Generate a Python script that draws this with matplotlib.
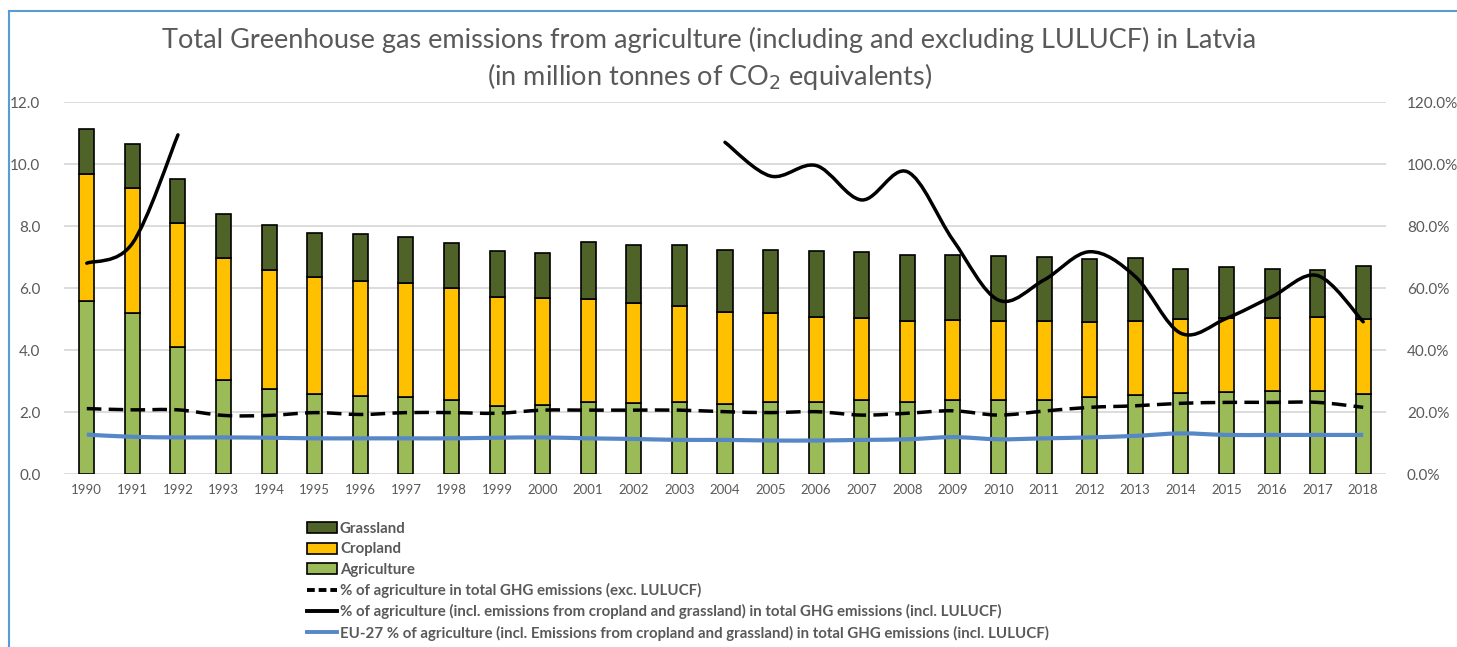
import numpy as np
import matplotlib
matplotlib.use("Agg")
import matplotlib.pyplot as plt
from matplotlib.path import Path
from matplotlib.patches import PathPatch, Patch
from matplotlib.lines import Line2D
from matplotlib.ticker import FuncFormatter, MultipleLocator

plt.rcParams['font.family'] = ['Lato', 'DejaVu Sans']

# data (million tonnes CO2 eq.)
years = [str(y) for y in range(1990, 2019)]
agriculture = [5.58, 5.20, 4.11, 3.03, 2.73, 2.57, 2.51, 2.48, 2.38, 2.19,
               2.23, 2.32, 2.28, 2.32, 2.26, 2.31, 2.32, 2.40, 2.33, 2.38,
               2.40, 2.40, 2.49, 2.55, 2.61, 2.65, 2.68, 2.68, 2.58]
cropland = [4.10, 4.04, 3.99, 3.94, 3.86, 3.77, 3.73, 3.68, 3.61, 3.52,
            3.45, 3.33, 3.24, 3.11, 2.98, 2.87, 2.76, 2.64, 2.59, 2.59,
            2.55, 2.55, 2.42, 2.40, 2.39, 2.37, 2.35, 2.40, 2.43]
grassland = [1.44, 1.42, 1.42, 1.42, 1.43, 1.43, 1.50, 1.49, 1.45, 1.48,
             1.46, 1.84, 1.87, 1.96, 2.00, 2.06, 2.11, 2.12, 2.16, 2.08,
             2.08, 2.05, 2.03, 2.02, 1.62, 1.65, 1.57, 1.50, 1.71]

# percentages
pct_exc_lulucf = [21.1, 20.7, 20.7, 18.9, 18.9, 19.8, 19.2, 19.8, 19.8, 19.6,
                  20.6, 20.6, 20.6, 20.6, 20.1, 19.8, 20.1, 19.0, 19.6, 20.4,
                  19.0, 20.3, 21.5, 22.0, 22.8, 23.1, 23.1, 23.1, 21.5]
pct_inc_lulucf = [68.0, 74.4, 109.4, np.nan, np.nan, np.nan, np.nan, np.nan,
                  np.nan, np.nan, np.nan, np.nan, np.nan, np.nan, 107.0, 96.1,
                  99.5, 88.4, 97.5, 75.5, 56.1, 62.6, 71.7, 63.7, 45.4, 50.2,
                  57.2, 64.0, 49.1]
pct_eu27 = [12.7, 12.0, 11.8, 11.8, 11.7, 11.5, 11.5, 11.5, 11.5, 11.7,
            11.8, 11.5, 11.3, 11.0, 11.0, 10.8, 10.8, 11.0, 11.2, 11.9,
            11.2, 11.5, 11.8, 12.3, 13.1, 12.6, 12.6, 12.6, 12.6]

c_grass = '#4F6228'
c_crop = '#FFC000'
c_agri = '#9BBB59'
c_blue = '#5687C6'
c_text = '#595959'


def smooth_line(ax, xs, ys, **kw):
    # Excel-style smoothed line (Catmull-Rom as cubic Bezier), per unbroken run
    xs = np.asarray(xs, float)
    ys = np.asarray(ys, float)
    ok = ~np.isnan(ys)
    runs, cur = [], []
    for i in range(len(xs)):
        if ok[i]:
            cur.append(i)
        elif cur:
            runs.append(cur)
            cur = []
    if cur:
        runs.append(cur)
    for run in runs:
        p = np.column_stack([xs[run], ys[run]])
        n = len(p)
        verts = [p[0]]
        codes = [Path.MOVETO]
        for i in range(n - 1):
            p0 = p[max(i - 1, 0)]
            p1, p2 = p[i], p[i + 1]
            p3 = p[min(i + 2, n - 1)]
            verts += [p1 + (p2 - p0) / 6, p2 - (p3 - p1) / 6, p2]
            codes += [Path.CURVE4] * 3
        ax.add_patch(PathPatch(Path(verts, codes), fill=False, **kw))


fig = plt.figure(figsize=(14.57, 6.47), dpi=100)
ax = fig.add_axes([64 / 1457, 1 - 474 / 647, 1322 / 1457, 372 / 647])
x = np.arange(len(years))
w = 0.33
ax.bar(x, agriculture, w, color=c_agri, edgecolor='black', linewidth=1.2, zorder=2)
ax.bar(x, cropland, w, bottom=agriculture, color=c_crop, edgecolor='black', linewidth=1.2, zorder=2)
bottom2 = np.array(agriculture) + np.array(cropland)
ax.bar(x, grassland, w, bottom=bottom2, color=c_grass, edgecolor='black', linewidth=1.2, zorder=2)

ax.set_xlim(-0.5, len(years) - 0.5)
ax.set_ylim(0, 12)
ax.yaxis.set_major_locator(MultipleLocator(2))
ax.yaxis.set_major_formatter(FuncFormatter(lambda v, p: f"{v:.1f}"))
ax.set_xticks(x)
ax.set_xticklabels(years)
ax.grid(axis='y', color='#D9D9D9', linewidth=1.3)
ax.set_axisbelow(True)
for s in ax.spines.values():
    s.set_visible(False)
ax.tick_params(axis='y', length=0, pad=17, labelsize=11, labelcolor=c_text)
ax.tick_params(axis='x', length=0, pad=7, labelsize=9.5, labelcolor=c_text)

ax2 = ax.twinx()
ax2.set_ylim(0, 120)
ax2.yaxis.set_major_locator(MultipleLocator(20))
ax2.yaxis.set_major_formatter(FuncFormatter(lambda v, p: f"{v:.1f}%"))
for s in ax2.spines.values():
    s.set_visible(False)
ax2.tick_params(axis='y', length=0, pad=15, labelsize=11, labelcolor=c_text)

smooth_line(ax2, x, pct_eu27, edgecolor=c_blue, linewidth=3.0, zorder=3)
smooth_line(ax2, x, pct_exc_lulucf, edgecolor='black', linewidth=2.5,
            linestyle=(0, (4.2, 2.1)), zorder=4)
smooth_line(ax2, x, pct_inc_lulucf, edgecolor='black', linewidth=2.5, zorder=5,
            capstyle='round')

fig.text(0.487, 1 - 40 / 647,
         "Total Greenhouse gas emissions from agriculture (including and excluding LULUCF) in Latvia",
         ha='center', va='center', fontsize=19.5, color=c_text)
fig.text(0.487, 1 - 77 / 647, "(in million tonnes of CO$_2$ equivalents)",
         ha='center', va='center', fontsize=19.5, color=c_text)

handles = [
    Patch(facecolor=c_grass, edgecolor='black', linewidth=1.2),
    Patch(facecolor=c_crop, edgecolor='black', linewidth=1.2),
    Patch(facecolor=c_agri, edgecolor='black', linewidth=1.2),
    Line2D([], [], color='black', linewidth=2.8, linestyle=(0, (2.0, 1.0))),
    Line2D([], [], color='black', linewidth=2.8),
    Line2D([], [], color=c_blue, linewidth=2.8),
]
labels = [
    "Grassland", "Cropland", "Agriculture",
    "% of agriculture in total GHG emissions (exc. LULUCF)",
    "% of agriculture (incl. emissions from cropland and grassland) in total GHG emissions (incl. LULUCF)",
    "EU-27 % of agriculture (incl. Emissions from cropland and grassland) in total GHG emissions (incl. LULUCF)",
]
leg = fig.legend(handles, labels, loc='upper left', bbox_to_anchor=(307 / 1457, 1 - 522 / 647),
                 frameon=False, handlelength=2.0, handleheight=0.75,
                 handletextpad=0.2, labelspacing=0.42, borderpad=0, borderaxespad=0,
                 prop={'weight': 'bold', 'size': 10.8})
for t in leg.get_texts():
    t.set_color(c_text)

# chart border (left and top)
fig.add_artist(Line2D([9 / 1457, 9 / 1457], [0, 1 - 11 / 647], color='#5B9BD5', linewidth=1.5))
fig.add_artist(Line2D([9 / 1457, 1], [1 - 11 / 647, 1 - 11 / 647], color='#5B9BD5', linewidth=1.5))

fig.savefig("out.png", dpi=100)
